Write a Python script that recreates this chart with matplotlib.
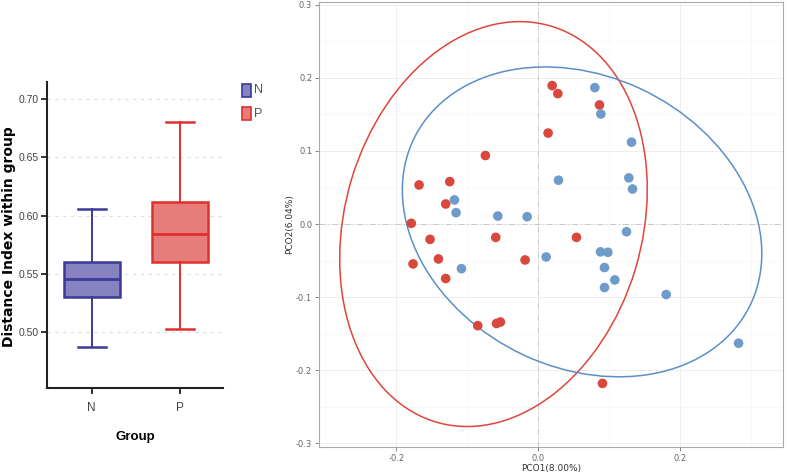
import numpy as np
import matplotlib
matplotlib.use("Agg")
import matplotlib.pyplot as plt
from matplotlib.patches import Ellipse, Rectangle
from matplotlib import font_manager

names = {f.name for f in font_manager.fontManager.ttflist}
NARROW = "Liberation Sans Narrow" if "Liberation Sans Narrow" in names else "Liberation Sans"

# ---------------- data: boxplot ----------------
groups = ["N", "P"]
whisker_low = [0.487, 0.503]
q1 = [0.530, 0.560]
median = [0.5455, 0.5845]
q3 = [0.560, 0.612]
whisker_high = [0.6057, 0.6808]
box_fill = ["#8782c0", "#e67d7b"]
box_edge = ["#3b3a98", "#e0302e"]
box_yticks = [0.50, 0.55, 0.60, 0.65, 0.70]

# ---------------- data: PCoA ----------------
red_x = [0.0198, 0.0278, 0.0866, 0.0141, -0.0744, -0.168, -0.1247, -0.1304, -0.179,
         -0.1525, -0.0598, 0.0541, -0.1407, -0.1765, -0.0184, -0.1304, -0.0852,
         -0.0588, -0.0532, 0.0908]
red_y = [0.1895, 0.1785, 0.163, 0.1245, 0.0938, 0.0535, 0.0581, 0.0275, 0.001,
         -0.0209, -0.0182, -0.0182, -0.0477, -0.0545, -0.0491, -0.0745, -0.139,
         -0.136, -0.134, -0.218]
blue_x = [0.080, 0.0885, 0.1318, 0.0287, 0.128, 0.1332, -0.1181, -0.1158, -0.0569,
          -0.0155, 0.1247, 0.0113, 0.088, 0.0984, 0.0936, -0.1082, 0.1082, 0.0936,
          0.1807, 0.2828]
blue_y = [0.1867, 0.1506, 0.1121, 0.060, 0.0632, 0.048, 0.033, 0.0156, 0.011,
          0.0101, -0.0105, -0.045, -0.038, -0.0386, -0.0595, -0.061, -0.0764,
          -0.0868, -0.0964, -0.163]
# ellipse params: centre x, centre y, half extent x, half extent y, cross term
ell_cx = [-0.063, 0.062]
ell_cy = [0.000, 0.003]
ell_hx = [0.217, 0.2536]
ell_hy = [0.277, 0.212]
ell_cross = [0.0103, -0.0110]
pt_colors = ["#d9473d", "#6f9bcb"]
ell_colors = ["#e0453a", "#5b8fc9"]
x_label = "PCO1(8.00%)"
y_label = "PCO2(6.04%)"

fig = plt.figure(figsize=(7.87, 4.73), dpi=100)

# ================= left: boxplot =================
ax1 = fig.add_axes([0.0601, 0.1797, 0.2229, 0.6476])
positions = [1, 2]
for i, g in enumerate(groups):
    stats = [dict(med=median[i], q1=q1[i], q3=q3[i], whislo=whisker_low[i],
                  whishi=whisker_high[i], fliers=[], label=g)]
    ax1.bxp(stats, positions=[positions[i]], widths=0.63, patch_artist=True,
            showfliers=False,
            boxprops=dict(facecolor=box_fill[i], edgecolor=box_edge[i], linewidth=1.8),
            medianprops=dict(color=box_edge[i], linewidth=2.0),
            whiskerprops=dict(color=box_edge[i], linewidth=1.4),
            capprops=dict(color=box_edge[i], linewidth=1.8),
            capwidths=0.32, zorder=3)
ax1.set_xlim(0.497, 2.48)
ax1.set_ylim(0.452, 0.715)
ax1.set_yticks(box_yticks)
ax1.set_yticklabels([f"{v:.2f}" for v in box_yticks], family=NARROW, fontsize=7.5, color="#444444")
ax1.set_xticks(positions)
ax1.set_xticklabels(groups, family=NARROW, fontsize=8.5, color="#444444")
for yv in box_yticks:
    ax1.axhline(yv, color="#dddddd", lw=0.8, ls=(0, (3, 4)), zorder=0)
for s in ["top", "right"]:
    ax1.spines[s].set_visible(False)
for s in ["left", "bottom"]:
    ax1.spines[s].set_linewidth(1.5)
    ax1.spines[s].set_color("#222222")
ax1.tick_params(axis="y", length=4, width=1.3, color="#222222", pad=2)
ax1.tick_params(axis="x", length=4, width=1.3, color="#222222", pad=6)
ax1.set_ylabel("Distance Index within group", fontsize=10, fontweight="bold",
               family="DejaVu Sans", va="center")
ax1.yaxis.set_label_coords(-0.218, 0.495)
ax1.set_xlabel("Group", fontsize=9.5, fontweight="bold", family=NARROW, labelpad=12)

# legend
legend_ax = fig.add_axes([0.305, 0.74, 0.05, 0.09])
legend_ax.set_xlim(0, 1)
legend_ax.set_ylim(0, 1)
legend_ax.axis("off")
for i, g in enumerate(groups):
    yb = 0.62 - i * 0.55
    legend_ax.add_patch(Rectangle((0.06, yb), 0.22, 0.3, facecolor=box_fill[i],
                                  edgecolor=box_edge[i], lw=1.2))
    legend_ax.text(0.36, yb + 0.15, g, family=NARROW, fontsize=9, color="#555555",
                   va="center", ha="left")

# ================= right: PCoA =================
ax2 = fig.add_axes([0.4055, 0.055, 0.5895, 0.941])
ax2.set_xlim(-0.309, 0.3456)
ax2.set_ylim(-0.305, 0.304)
ax2.set_xticks([-0.2, 0.0, 0.2])
ax2.set_xticks([-0.3, -0.1, 0.1, 0.3], minor=True)
ax2.set_yticks([-0.3, -0.2, -0.1, 0.0, 0.1, 0.2, 0.3])
ax2.set_yticks(np.arange(-0.25, 0.3, 0.1), minor=True)
ax2.grid(which="major", color="#eeeeee", lw=0.7)
ax2.grid(which="minor", color="#f6f6f6", lw=0.5)
ax2.set_axisbelow(True)
ax2.axvline(0, color="#c8c8c8", lw=0.7, ls=(0, (6, 3, 1, 3)), zorder=1)
ax2.axhline(0, color="#c8c8c8", lw=0.7, ls=(0, (6, 3, 1, 3)), zorder=1)
ax2.tick_params(which="major", length=3, width=0.7, color="#888888", labelsize=6,
                labelcolor="#666666", pad=2)
ax2.tick_params(which="minor", length=0)
ax2.set_xticklabels(["-0.2", "0.0", "0.2"])
ax2.set_yticklabels(["-0.3", "-0.2", "-0.1", "0.0", "0.1", "0.2", "0.3"])
for s in ax2.spines.values():
    s.set_color("#aaaaaa")
    s.set_linewidth(0.8)
ax2.set_xlabel(x_label, fontsize=6.5, color="#333333", labelpad=1)
ax2.set_ylabel(y_label, fontsize=6.5, color="#333333", labelpad=1)

for i in range(2):
    cov = np.array([[ell_hx[i] ** 2, ell_cross[i]], [ell_cross[i], ell_hy[i] ** 2]])
    vals, vecs = np.linalg.eigh(cov)
    ang = np.degrees(np.arctan2(vecs[1, 1], vecs[0, 1]))
    e = Ellipse((ell_cx[i], ell_cy[i]), 2 * np.sqrt(vals[1]), 2 * np.sqrt(vals[0]),
                angle=ang, fill=False, edgecolor=ell_colors[i], lw=1.1, zorder=2)
    ax2.add_patch(e)

ax2.scatter(red_x, red_y, s=48, color=pt_colors[0], edgecolor="none", zorder=3)
ax2.scatter(blue_x, blue_y, s=48, color=pt_colors[1], edgecolor="none", zorder=3)

fig.savefig("out.png", dpi=100)
